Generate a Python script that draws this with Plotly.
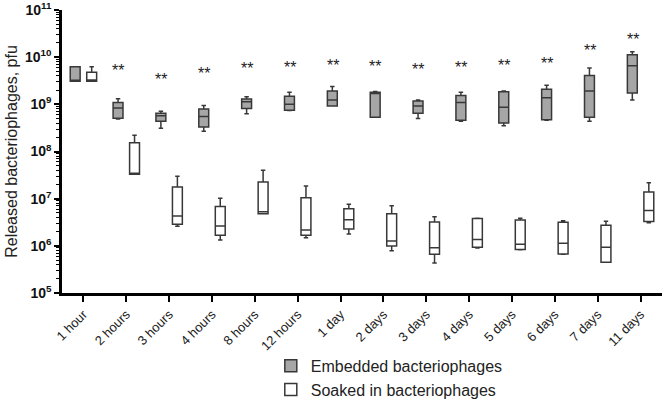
import math
import plotly.graph_objects as go

categories = ["1 hour", "2 hours", "3 hours", "4 hours", "8 hours", "12 hours", "1 day",
              "2 days", "3 days", "4 days", "5 days", "6 days", "7 days", "11 days"]

# Embedded bacteriophages (box statistics, pfu)
emb_low = [3.1e9, 4.9e8, 3.1e8, 2.7e8, 6.3e8, 7.4e8, 9.2e8, 5.3e8, 5.0e8, 4.4e8, 3.5e8, 4.6e8, 4.4e8, 1.24e9]
emb_q1 = [3.1e9, 5.1e8, 4.4e8, 3.3e8, 8.2e8, 7.5e8, 9.2e8, 5.3e8, 6.5e8, 4.6e8, 4.0e8, 4.7e8, 5.3e8, 1.74e9]
emb_med = [3.2e9, 8.4e8, 5.7e8, 5.5e8, 1.14e9, 1.0e9, 1.24e9, 1.7e9, 9.2e8, 1.1e9, 8.7e8, 1.38e9, 1.92e9, 6.6e9]
emb_q3 = [6.3e9, 1.1e9, 6.5e8, 8.0e8, 1.3e9, 1.48e9, 1.92e9, 1.8e9, 1.18e9, 1.53e9, 1.84e9, 2.08e9, 4.1e9, 1.13e10]
emb_high = [6.3e9, 1.32e9, 7.1e8, 9.5e8, 1.45e9, 1.8e9, 2.4e9, 1.86e9, 1.24e9, 1.8e9, 1.92e9, 2.53e9, 5.9e9, 1.31e10]

# Soaked in bacteriophages (box statistics, pfu)
soak_low = [3.1e9, 3.3e7, 2.6e6, 1.33e6, 4.8e6, 1.49e6, 1.78e6, 7.9e5, 4.3e5, 9.0e5, 8.3e5, 6.6e5, 4.5e5, 3.1e6]
soak_q1 = [3.1e9, 3.3e7, 2.86e6, 1.67e6, 4.8e6, 1.67e6, 2.28e6, 9.9e5, 6.6e5, 9.3e5, 8.4e5, 6.7e5, 4.5e5, 3.3e6]
soak_med = [3.3e9, 3.4e7, 4.3e6, 2.64e6, 5.3e6, 2.17e6, 3.58e6, 1.27e6, 9.1e5, 1.37e6, 1.08e6, 1.13e6, 9.3e5, 5.6e6]
soak_q3 = [4.8e9, 1.54e8, 1.77e7, 6.8e6, 2.26e7, 1.05e7, 6.1e6, 4.8e6, 3.2e6, 3.8e6, 3.53e6, 3.16e6, 2.73e6, 1.39e7]
soak_high = [6.3e9, 2.2e8, 3.0e7, 1.02e7, 4.0e7, 1.86e7, 7.6e6, 7.1e6, 4.15e6, 3.83e6, 3.83e6, 3.41e6, 3.31e6, 2.18e7]

# significance marks ("**") and their heights
sig_labels = ["", "**", "**", "**", "**", "**", "**", "**", "**", "**", "**", "**", "**", "**"]
sig_y = [None, 5.1e9, 3.3e9, 4.4e9, 5.8e9, 6.1e9, 6.7e9, 6.3e9, 5.5e9, 6.0e9, 6.7e9, 7.4e9, 1.4e10, 2.4e10]

ytick_vals = [1e5, 1e6, 1e7, 1e8, 1e9, 1e10, 1e11]
ytick_text = ["<b>10<sup>5</sup></b>", "<b>10<sup>6</sup></b>", "<b>10<sup>7</sup></b>", "<b>10<sup>8</sup></b>",
              "<b>10<sup>9</sup></b>", "<b>10<sup>10</sup></b>", "<b>10<sup>11</sup></b>"]

LINE = "#383838"
FONT = "Liberation Sans, Arial, sans-serif"

fig = go.Figure()
fig.add_trace(go.Box(
    name="Embedded bacteriophages", x=categories, legendgroup="emb",
    lowerfence=emb_low, q1=emb_q1, median=emb_med, q3=emb_q3, upperfence=emb_high,
    fillcolor="#a6a6a6", line=dict(color=LINE, width=1.5), whiskerwidth=0.45,
    boxpoints=False, hoverinfo="skip",
))
fig.add_trace(go.Box(
    name="Soaked in bacteriophages", x=categories, legendgroup="soak",
    lowerfence=soak_low, q1=soak_q1, median=soak_med, q3=soak_q3, upperfence=soak_high,
    fillcolor="#ffffff", line=dict(color=LINE, width=1.5), whiskerwidth=0.45,
    boxpoints=False, hoverinfo="skip",
))

for cat, lab, yv in zip(categories, sig_labels, sig_y):
    if lab and yv is not None:
        fig.add_annotation(x=cat, y=math.log10(yv), text=lab, showarrow=False,
                           xref="x", yref="y", xshift=-8, yanchor="middle",
                           font=dict(size=16, color="#222222", family=FONT))

fig.update_layout(
    width=663, height=400,
    margin=dict(l=62, r=1, t=10, b=107, autoexpand=False),
    paper_bgcolor="white", plot_bgcolor="white",
    boxmode="group", boxgap=0.23, boxgroupgap=0.4,
    font=dict(family=FONT, color="#222222"),
    showlegend=True,
    legend=dict(x=0.348, y=-0.197, xanchor="left", yanchor="top",
                font=dict(size=16, color="#222222", family=FONT),
                traceorder="grouped", tracegroupgap=0, bgcolor="rgba(0,0,0,0)"),
)
fig.update_xaxes(
    type="category", range=[-0.5, 13.5], automargin=False,
    showline=True, linecolor="black", linewidth=2.5,
    ticks="outside", ticklen=6, tickwidth=2, tickcolor="black",
    tickangle=-45, tickfont=dict(size=13, color="#222222", family=FONT),
    showgrid=False, zeroline=False,
)
fig.update_yaxes(
    type="log", range=[5, 11], automargin=False,
    tickvals=ytick_vals, ticktext=ytick_text,
    showline=True, linecolor="black", linewidth=2.5,
    ticks="outside", ticklen=5, tickwidth=2, tickcolor="black",
    tickfont=dict(size=14, color="#111111", family=FONT),
    minor=dict(ticks="outside", ticklen=3, tickwidth=1, tickcolor="black", dtick="D1", showgrid=False),
    showgrid=False, zeroline=False,
    title=dict(text="Released bacteriophages, pfu", font=dict(size=16, color="#222222", family=FONT), standoff=4),
)

fig.write_html("out.html", config={"displayModeBar": False},
               post_script="document.body.style.margin='0';document.body.style.padding='0';")
